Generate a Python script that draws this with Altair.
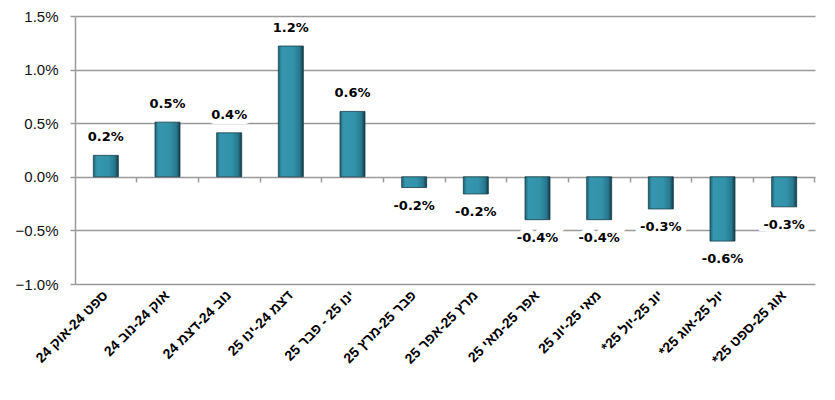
import altair as alt
import pandas as pd

periods = [
    "ספט 24-אוק 24",
    "אוק 24-נוב 24",
    "נוב 24-דצמ 24",
    "דצמ 24-ינו 25",
    "ינו 25 - פבר 25",
    "פבר 25-מרץ 25",
    "מרץ 25-אפר 25",
    "אפר 25-מאי 25",
    "מאי 25-יונ 25",
    "יונ 25-יול 25*\u200f",
    "יול 25-אוג 25*\u200f",
    "אוג 25-ספט 25*\u200f",
]
values_pct = [0.20, 0.51, 0.41, 1.22, 0.61, -0.10, -0.16, -0.40, -0.40, -0.30, -0.60, -0.28]
value_labels = ["0.2%", "0.5%", "0.4%", "1.2%", "0.6%", "-0.2%", "-0.2%", "-0.4%", "-0.4%", "-0.3%", "-0.6%", "-0.3%"]
y_ticks = [-0.01, -0.005, 0.0, 0.005, 0.01, 0.015]

df = pd.DataFrame({
    "period": periods,
    "value": [v / 100 for v in values_pct],
    "label": value_labels,
})

GRID = "#9a9a9a"
x_sort = periods

yscale = alt.Scale(domain=[-0.01, 0.015], nice=False)
yaxis = alt.Axis(values=y_ticks, format=".1%", labelFont="Liberation Sans",
                 labelFontSize=15, labelColor="#111111", labelPadding=12,
                 domainColor=GRID, domainWidth=1.5, tickColor=GRID, tickWidth=1.5,
                 tickSize=5, gridColor=GRID, gridWidth=1.5)

bar_grad = alt.Gradient(
    gradient="linear",
    x1=0, x2=1, y1=0, y2=0,
    stops=[
        alt.GradientStop(color="#1f6476", offset=0),
        alt.GradientStop(color="#3596ae", offset=0.14),
        alt.GradientStop(color="#3292aa", offset=0.6),
        alt.GradientStop(color="#27788d", offset=0.86),
        alt.GradientStop(color="#123a46", offset=1),
    ],
)

base = alt.Chart(df)

bars = base.mark_bar(color=bar_grad, size=25, stroke="#173d48", strokeWidth=0.8).encode(
    x=alt.X("period:N", sort=x_sort, title=None,
            scale=alt.Scale(paddingInner=0, paddingOuter=0),
            axis=alt.Axis(labelAngle=-45, labelAlign="right", labelBaseline="middle",
                          labelFont="Liberation Sans", labelFontSize=14, labelFontWeight="bold",
                          labelColor="#000000", labelPadding=9, ticks=False, domain=False,
                          grid=False, labelLimit=300)),
    y=alt.Y("value:Q", scale=yscale, title=None, axis=yaxis),
)

zero_ticks = base.mark_point(opacity=0).encode(
    x=alt.X("period:N", sort=x_sort, title=None,
            axis=alt.Axis(orient="bottom", labels=False, domain=False, ticks=True, bandPosition=1,
                          tickColor=GRID, tickWidth=1.5, tickSize=5, offset=-107, grid=False)),
    y=alt.Y("value:Q", scale=yscale, title=None, axis=yaxis),
)

pos = base.transform_filter("datum.value >= 0")
neg = base.transform_filter("datum.value < 0")

def labels(src, dy):
    enc = dict(x=alt.X("period:N", sort=x_sort, axis=None),
               y=alt.Y("value:Q", scale=yscale, title=None, axis=yaxis),
               text="label:N")
    halo = src.mark_text(font="DejaVu Sans", fontSize=13, fontWeight="bold", dy=dy,
                         baseline="middle", stroke="white", strokeWidth=10, color="white").encode(**enc)
    txt = src.mark_text(font="DejaVu Sans", fontSize=13, fontWeight="bold", dy=dy,
                        baseline="middle", color="#000000").encode(**enc)
    return halo, txt

ph, pt = labels(pos, -18)
nh, nt = labels(neg, 18)

chart = alt.layer(bars, zero_ticks, ph, nh, pt, nt).resolve_axis(x="independent").properties(
    width=740, height=268,
    background="white",
    autosize=alt.AutoSizeParams(type="none"),
    padding={"left": 67, "top": 8, "right": 12, "bottom": 108},
).configure_view(stroke=None)

chart.save("out.html", embed_options={"renderer": "svg", "actions": False})
